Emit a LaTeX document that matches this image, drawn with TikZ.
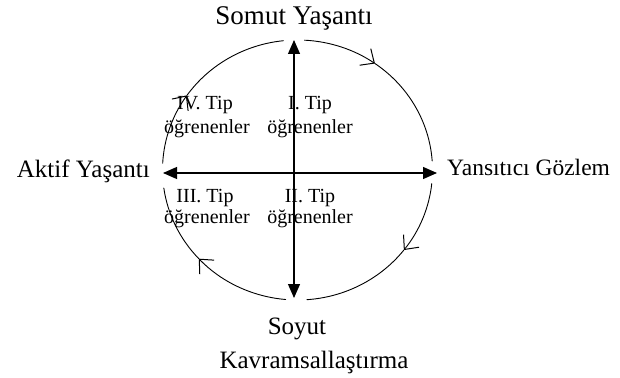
\documentclass[tikz,border=0pt]{standalone}
\usepackage{fontspec}
\setmainfont{Liberation Serif}
\usetikzlibrary{arrows.meta}
\begin{document}
\begin{tikzpicture}[x=1pt, y=-1pt, line join=round, line cap=round,
		axis/.style={line width=1.2pt, {Triangle[length=14pt,width=12pt]}-{Triangle[length=14pt,width=12pt]}},
		cyc/.style={line width=0.9pt},
		flow/.style={line width=0.9pt, -{Straight Barb[length=11pt,width=20pt,line width=1pt]}},
		pole/.style={font=\fontsize{25}{28}\selectfont, inner sep=0pt},
		group/.style={font=\fontsize{20}{23}\selectfont, inner sep=0pt, anchor=base}]
			\useasboundingbox (0,0) rectangle (620,377);
			\coordinate (c) at (297.5,170);
			\coordinate (up) at (294,40);
			\coordinate (down) at (294,298);
			\coordinate (left) at (163,173);
			\coordinate (right) at (437,173);
			% cycle, clockwise
			\foreach \a/\m/\b in {273/305/356, 6/38/86, 95/137/172, 183/215/264}{
				\draw[flow] (c) ++(\a:135 and 130) arc[start angle=\a, end angle=\m, x radius=135, y radius=130];
				\draw[cyc] (c) ++(\m:135 and 130) arc[start angle=\m, end angle=\b, x radius=135, y radius=130];
			}
			\draw[axis] (down) -- (up);
			\draw[axis] (left) -- (right);
			\node[pole, anchor=base, font=\fontsize{27}{30}\selectfont] (somut) at (294,25) {Somut Yaşantı};
			\node[pole, anchor=base east] (aktif) at (150,177) {Aktif Yaşantı};
			\node[pole, anchor=base west, font=\fontsize{23.5}{28}\selectfont] (yansitici) at (447,175) {Yansıtıcı Gözlem};
			\node[pole, anchor=base] (soyut) at (297,334) {Soyut};
			\node[pole, anchor=base] (kavram) at (314,368) {Kavramsallaştırma};
			\node[group] (tip4) at (205,110) {IV. Tip};
			\node[group] (ogr4) at (207,133) {öğrenenler};
			\node[group] (tip1) at (310,110) {I. Tip};
			\node[group] (ogr1) at (310,133) {öğrenenler};
			\node[group] (tip3) at (205,202) {III. Tip};
			\node[group] (ogr3) at (207,223) {öğrenenler};
			\node[group] (tip2) at (310,202) {II. Tip};
			\node[group] (ogr2) at (310,223) {öğrenenler};
		\end{tikzpicture}
\end{document}
